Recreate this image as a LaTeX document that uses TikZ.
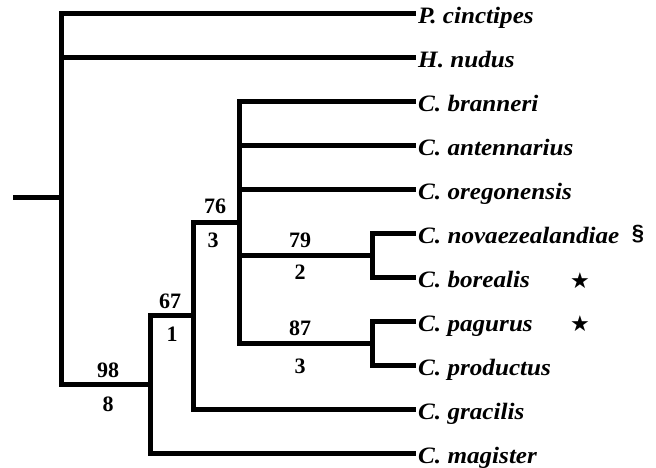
\documentclass[tikz,border=0pt]{standalone}
\usepackage{fontspec}
\setmainfont{Liberation Serif}
\newfontfamily\leaffont[FakeStretch=1.07]{Liberation Serif}
\newfontfamily\symfont{DejaVu Sans}
\newfontfamily\sansb{Liberation Sans}
\begin{document}
\begin{tikzpicture}[x=1pt,y=-1pt,
  branch/.style={line width=5pt,line join=miter},
  leaf/.style={anchor=base west,inner sep=0pt,font=\leaffont\fontsize{23.5}{25}\selectfont\bfseries\itshape},
  supp/.style={inner sep=0pt,font=\fontsize{22}{24}\selectfont\bfseries},
  symb/.style={inner sep=0pt}]
\useasboundingbox (0,0) rectangle (656,467);
% coordinates
\coordinate (r0) at (13,197);
\coordinate (root) at (61,197);
\coordinate (n98) at (150,384);
\coordinate (n67) at (193,315);
\coordinate (n76) at (239,222);
\coordinate (n79) at (372,255);
\coordinate (n87) at (372,343);
\foreach \n/\y in {P/13,H/57,Bra/101,Ant/145,Ore/189,Nov/233,Bor/277,Pag/321,Pro/365,Gra/409,Mag/453}
  \coordinate (t\n) at (416,\y);
% branches
\draw[branch] (r0) -- (root);
\draw[branch] (root) |- (tP);
\draw[branch] (root) |- (tH);
\draw[branch] (root) |- (n98);
\draw[branch] (n98) |- (n67);
\draw[branch] (n98) |- (tMag);
\draw[branch] (n67) |- (n76);
\draw[branch] (n67) |- (tGra);
\draw[branch] (n76) |- (tBra);
\draw[branch] (n76) |- (tAnt);
\draw[branch] (n76) |- (tOre);
\draw[branch] (n76) |- (n79);
\draw[branch] (n76) |- (n87);
\draw[branch] (n79) |- (tNov);
\draw[branch] (n79) |- (tBor);
\draw[branch] (n87) |- (tPag);
\draw[branch] (n87) |- (tPro);
% leaf labels
\node[leaf] (lP) at ([xshift=2pt,yshift=-10pt]tP) {P. cinctipes};
\node[leaf] (lH) at ([xshift=2pt,yshift=-10pt]tH) {H. nudus};
\node[leaf] (lBra) at ([xshift=2pt,yshift=-10pt]tBra) {C. branneri};
\node[leaf] (lAnt) at ([xshift=2pt,yshift=-10pt]tAnt) {C. antennarius};
\node[leaf] (lOre) at ([xshift=2pt,yshift=-10pt]tOre) {C. oregonensis};
\node[leaf] (lNov) at ([xshift=2pt,yshift=-10pt]tNov) {C. novaezealandiae};
\node[leaf] (lBor) at ([xshift=2pt,yshift=-10pt]tBor) {C. borealis};
\node[leaf] (lPag) at ([xshift=2pt,yshift=-10pt]tPag) {C. pagurus};
\node[leaf] (lPro) at ([xshift=2pt,yshift=-10pt]tPro) {C. productus};
\node[leaf] (lGra) at ([xshift=2pt,yshift=-10pt]tGra) {C. gracilis};
\node[leaf] (lMag) at ([xshift=2pt,yshift=-10pt]tMag) {C. magister};
% marks
\node[symb,font=\fontsize{22}{24}\selectfont\sansb\bfseries] (sec) at (638,234) {§};
\node[symb,font=\fontsize{22}{24}\selectfont\symfont] (st1) at (580,281) {★};
\node[symb,font=\fontsize{22}{24}\selectfont\symfont] (st2) at (580,324) {★};
% support values
\node[supp] (b98) at (108,370) {98};
\node[supp] (d98) at (108,404) {8};
\node[supp] (b67) at (170,301) {67};
\node[supp] (d67) at (172,334) {1};
\node[supp] (b76) at (215,206) {76};
\node[supp] (d76) at (213,240) {3};
\node[supp] (b79) at (300,240) {79};
\node[supp] (d79) at (300,272) {2};
\node[supp] (b87) at (300,328) {87};
\node[supp] (d87) at (300,366) {3};
\end{tikzpicture}
\end{document}
